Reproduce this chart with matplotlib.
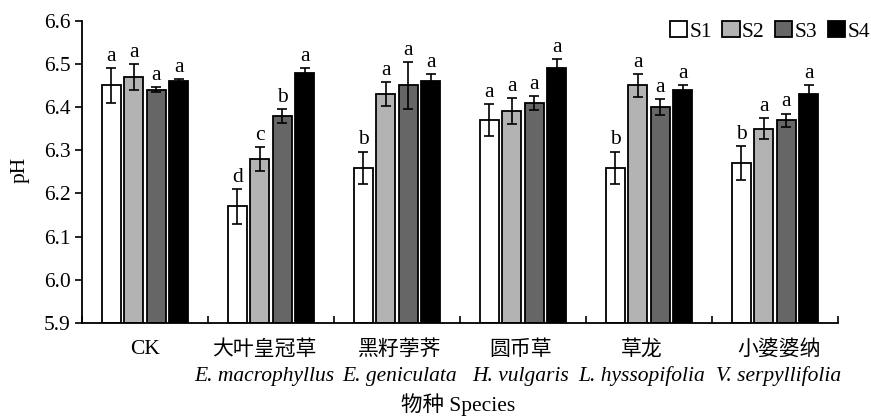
import matplotlib
matplotlib.use("Agg")
import matplotlib.pyplot as plt
import matplotlib.transforms as mtransforms
import numpy as np

categories_cn = ["CK", "大叶皇冠草", "黑籽荸荠", "圆币草", "草龙", "小婆婆纳"]
categories_latin = ["", "E. macrophyllus", "E. geniculata", "H. vulgaris", "L. hyssopifolia", "V. serpyllifolia"]
series = ["S1", "S2", "S3", "S4"]

s1 = [6.45, 6.17, 6.26, 6.37, 6.26, 6.27]
s2 = [6.47, 6.28, 6.43, 6.39, 6.45, 6.35]
s3 = [6.44, 6.38, 6.45, 6.41, 6.40, 6.37]
s4 = [6.46, 6.48, 6.46, 6.49, 6.44, 6.43]

e1 = [0.040, 0.040, 0.037, 0.038, 0.037, 0.039]
e2 = [0.030, 0.027, 0.028, 0.030, 0.027, 0.025]
e3 = [0.006, 0.016, 0.055, 0.016, 0.019, 0.015]
e4 = [0.004, 0.011, 0.016, 0.022, 0.011, 0.021]

l1 = ["a", "d", "b", "a", "b", "b"]
l2 = ["a", "c", "a", "a", "a", "a"]
l3 = ["a", "b", "a", "a", "a", "a"]
l4 = ["a", "a", "a", "a", "a", "a"]

yticks = [5.9, 6.0, 6.1, 6.2, 6.3, 6.4, 6.5, 6.6]
ytick_labels = ["5.9", "6.0", "6.1", "6.2", "6.3", "6.4", "6.5", "6.6"]

values = [s1, s2, s3, s4]
errors = [e1, e2, e3, e4]
letters = [l1, l2, l3, l4]
colors = ["#ffffff", "#b3b3b3", "#666666", "#000000"]

# horizontal nudges (in pixels) of the two-line category labels
label_shift_px = [0, -7, 3, -2, -7, 4]

serif = "Liberation Serif"
cjk = ["Liberation Serif", "Noto Sans CJK SC"]
fs = 15.5

fig = plt.figure(figsize=(8.71, 4.16), dpi=100)
ax = fig.add_axes([82/871, 1-323/416, (838-82)/871, (323-20.7)/416])

n = len(categories_cn)
x = np.arange(n)
pitch = 0.178
width = 0.15
for i in range(4):
    xs = x + (i - 1.5) * pitch
    ax.bar(xs, np.array(values[i]) - 5.9, bottom=5.9, width=width, color=colors[i],
           edgecolor="black", linewidth=1.3, label=series[i], zorder=2)
    ax.errorbar(xs, values[i], yerr=errors[i], fmt="none", ecolor="black",
                elinewidth=1.2, capsize=3.5, capthick=1.2, zorder=3)
    for xx, v, e, t in zip(xs, values[i], errors[i], letters[i]):
        ax.annotate(t, (xx, v + e), xytext=(0, 1.5), textcoords="offset points",
                    ha="center", va="bottom", fontsize=fs, family=serif)

ax.set_xlim(-0.5, n - 0.5)
ax.set_ylim(5.9, 6.6)
ax.set_yticks(yticks)
ax.set_yticklabels(ytick_labels, fontsize=fs, family=serif)
ax.tick_params(axis="y", direction="out", length=5, width=1.2, pad=3)
ax.set_xticks(x)
ax.set_xticklabels([])
ax.tick_params(axis="x", which="major", length=0)
ax.set_xticks(np.arange(n + 1) - 0.5, minor=True)
ax.tick_params(axis="x", which="minor", direction="in", length=5, width=1.2)
for s in ["top", "right"]:
    ax.spines[s].set_visible(False)
for s in ["left", "bottom"]:
    ax.spines[s].set_linewidth(1.3)

trans = mtransforms.blended_transform_factory(ax.transData, fig.transFigure)
for xi, cn, la, sh in zip(x, categories_cn, categories_latin, label_shift_px):
    off = mtransforms.ScaledTranslation(sh / 100, 0, fig.dpi_scale_trans)
    ax.text(xi, 1 - 350/416, cn, transform=trans + off, ha="center", va="center",
            fontsize=fs if cn == "CK" else 15, family=cjk)
    if la:
        ax.text(xi, 1 - 376/416, la, transform=trans + off, ha="center", va="center",
                fontsize=fs, family=serif, style="italic")

fig.text(458 / 871, 1 - 405/416, "物种 Species", ha="center", va="center",
         fontsize=fs, family=cjk)
fig.text(20/871, 1 - 170/416, "pH", rotation=90, ha="center", va="center",
         fontsize=fs, family=serif)

leg = ax.legend(loc="upper right", bbox_to_anchor=(870/871, 1 - 21/416),
                bbox_transform=fig.transFigure, ncol=4, frameon=False,
                handlelength=0.8, handleheight=0.8, handletextpad=0.1,
                columnspacing=0.5, borderaxespad=0, borderpad=0,
                prop={"family": serif, "size": fs})

fig.savefig("out.png", dpi=100)
